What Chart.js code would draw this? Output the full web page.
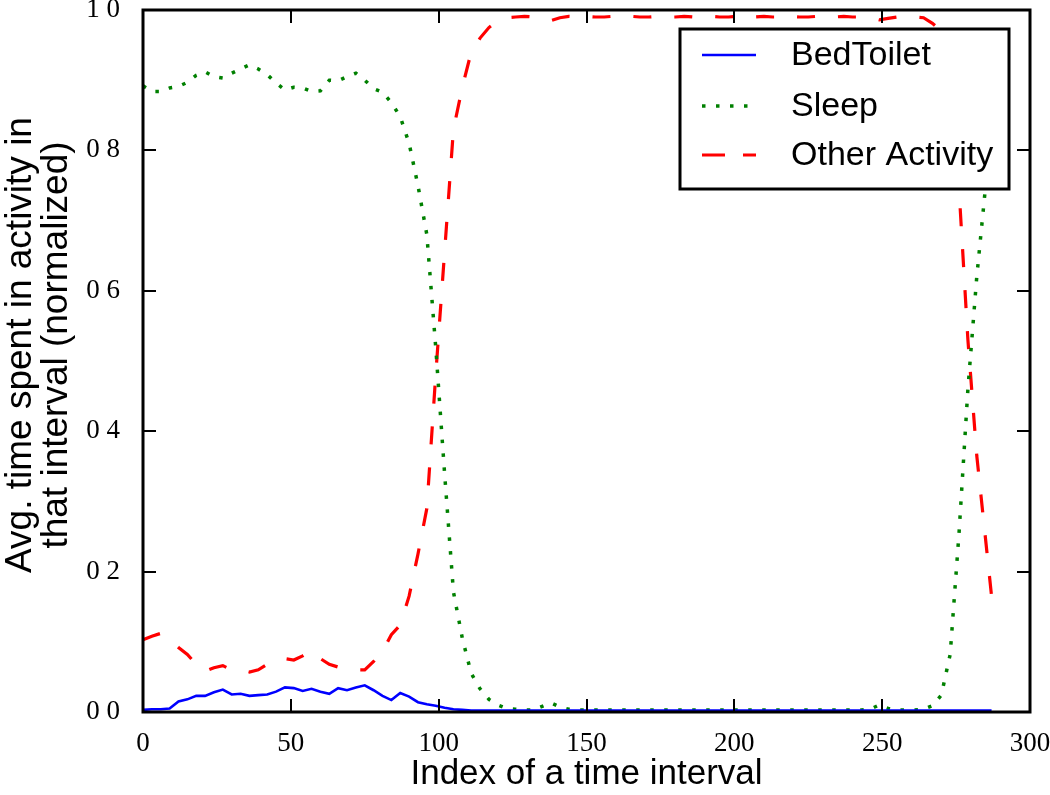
<!DOCTYPE html>
<html><head><meta charset="utf-8">
<script src="https://cdn.jsdelivr.net/npm/chart.js@4.4.0/dist/chart.umd.min.js"></script>
<style>html,body{margin:0;padding:0;background:#fff;}canvas{display:block;}</style>
</head><body>
<canvas id="c" width="1050" height="795"></canvas>
<script>
// ---- data (index of 5-minute interval) ----
const idx = [0,3,6,9,12,15,18,21,24,27,30,33,36,39,42,45,48,51,54,57,60,63,66,69,72,75,78,81,84,87,
  90,93,96,99,102,105,108,111,114,117,120,123,126,129,132,135,138,141,144,147,150,153,156,159,162,165,
  168,171,174,177,180,183,186,189,192,195,198,201,204,207,210,213,216,219,222,225,228,231,234,237,240,
  243,246,249,252,255,258,261,264,267,270,273,276,279,282,285,287];

const bedToilet = [0.003,0.004,0.004,0.005,0.015,0.018,0.023,0.023,0.028,0.032,
  0.025,0.026,0.023,0.024,0.025,0.029,0.035,0.034,0.030,0.033,
  0.029,0.026,0.034,0.031,0.035,0.038,0.031,0.023,0.017,0.027,
  0.022,0.014,0.011,0.009,0.006,0.004,0.003,0.002,0.002,0.002,
  0.002,0.002,0.002,0.002,0.002,0.002,0.002,0.002,0.002,0.002,
  0.002,0.002,0.002,0.002,0.002,0.002,0.002,0.002,0.002,0.002,
  0.002,0.002,0.002,0.002,0.002,0.002,0.002,0.002,0.002,0.002,
  0.002,0.002,0.002,0.002,0.002,0.002,0.002,0.002,0.002,0.002,
  0.002,0.002,0.002,0.002,0.002,0.002,0.002,0.002,0.002,0.002,
  0.002,0.002,0.002,0.002,0.002,0.002,0.002];

const sleep = [0.892,0.884,0.884,0.889,0.891,0.897,0.907,0.912,0.905,0.903,
  0.910,0.916,0.922,0.916,0.908,0.896,0.886,0.890,0.889,0.884,
  0.885,0.900,0.899,0.905,0.910,0.900,0.888,0.883,0.868,0.848,
  0.810,0.750,0.680,0.520,0.340,0.171,0.105,0.055,0.033,0.018,
  0.010,0.005,0.004,0.003,0.003,0.008,0.013,0.007,0.004,0.003,
  0.003,0.003,0.003,0.003,0.003,0.003,0.003,0.003,0.003,0.003,
  0.003,0.003,0.003,0.003,0.003,0.003,0.003,0.003,0.003,0.003,
  0.003,0.003,0.003,0.003,0.003,0.003,0.003,0.003,0.003,0.003,
  0.003,0.003,0.004,0.010,0.005,0.003,0.003,0.003,0.004,0.009,
  0.024,0.082,0.255,0.460,0.620,0.750,0.830];

const otherActivity = [0.103,0.108,0.112,0.104,0.092,0.082,0.068,0.058,0.063,0.066,
  0.060,0.060,0.057,0.060,0.068,0.074,0.076,0.074,0.080,0.088,
  0.076,0.068,0.064,0.062,0.060,0.060,0.072,0.086,0.110,0.124,
  0.165,0.225,0.290,0.480,0.655,0.830,0.890,0.940,0.960,0.975,
  0.985,0.989,0.990,0.991,0.990,0.988,0.985,0.989,0.991,0.990,
  0.991,0.990,0.990,0.991,0.990,0.991,0.990,0.990,0.991,0.990,
  0.990,0.991,0.990,0.990,0.991,0.990,0.990,0.991,0.990,0.990,
  0.991,0.990,0.990,0.991,0.990,0.990,0.991,0.990,0.990,0.991,
  0.990,0.990,0.989,0.986,0.988,0.990,0.990,0.990,0.989,0.981,
  0.970,0.915,0.745,0.530,0.365,0.245,0.165];

const seriesNames = ['BedToilet', 'Sleep', 'Other Activity'];
const xTickValues = [0, 50, 100, 150, 200, 250, 300];
const xTickLabels = ['0', '50', '100', '150', '200', '250', '300'];
const yTickValues = [0, 0.2, 0.4, 0.6, 0.8, 1.0];
const yTickLabels = ['0 0', '0 2', '0 4', '0 6', '0 8', '1 0'];
const xTitle = 'Index of a time interval';
const yTitle = ['Avg. time spent in activity in', 'that interval (normalized)'];

const toPts = arr => idx.map((x, i) => ({x, y: arr[i]}));

const styles = [
  {color: '#0000ff', width: 2.6, dash: [], legendDash: []},
  {color: '#008000', width: 3.5, dash: [3.5, 10.5], legendDash: [3.5, 10.5]},
  {color: '#ff0000', width: 3.2, dash: [18, 23], legendDash: [23, 18]}
];

const decor = {
  id: 'decor',
  afterDatasetsDraw(chart) {
    const {ctx, chartArea: a, scales: {x, y}} = chart;
    ctx.save();
    ctx.strokeStyle = '#000';
    ctx.lineWidth = 2;
    ctx.beginPath();
    xTickValues.forEach(v => {
      if (v <= x.min || v >= x.max) return;
      const px = Math.round(x.getPixelForValue(v));
      ctx.moveTo(px, a.bottom); ctx.lineTo(px, a.bottom - 13);
      ctx.moveTo(px, a.top); ctx.lineTo(px, a.top + 13);
    });
    yTickValues.forEach(v => {
      if (v <= y.min + 1e-9 || v >= y.max - 1e-9) return;
      const py = Math.round(y.getPixelForValue(v));
      ctx.moveTo(a.left, py); ctx.lineTo(a.left + 13, py);
      ctx.moveTo(a.right, py); ctx.lineTo(a.right - 13, py);
    });
    ctx.stroke();
    ctx.lineWidth = 3;
    ctx.strokeRect(a.left, a.top, a.right - a.left, a.bottom - a.top);

    // legend
    const L = 680, T = 29, R = 1009, B = 189;
    ctx.fillStyle = '#fff';
    ctx.fillRect(L, T, R - L, B - T);
    ctx.lineWidth = 3;
    ctx.strokeStyle = '#000';
    ctx.strokeRect(L, T, R - L, B - T);
    const rowsY = [55, 106, 155];
    ctx.font = '34px "Liberation Sans", Arial, sans-serif';
    ctx.textBaseline = 'middle';
    ctx.textAlign = 'left';
    seriesNames.forEach((name, i) => {
      const s = styles[i];
      ctx.save();
      ctx.strokeStyle = s.color;
      ctx.lineWidth = s.width;
      ctx.setLineDash(s.legendDash);
      ctx.beginPath();
      ctx.moveTo(702, rowsY[i]); ctx.lineTo(756, rowsY[i]);
      ctx.stroke();
      ctx.restore();
      ctx.fillStyle = '#000';
      ctx.fillText(name, 791, rowsY[i] + 1);
    });
    ctx.restore();
  },
  afterDraw(chart) {
    const {ctx, chartArea: a} = chart;
    ctx.save();
    ctx.fillStyle = '#000';
    ctx.textAlign = 'center';
    ctx.textBaseline = 'middle';
    ctx.font = '35px "Liberation Sans", Arial, sans-serif';
    ctx.fillText(xTitle, (a.left + a.right) / 2, 774);
    ctx.font = '37px "Liberation Sans", Arial, sans-serif';
    ctx.translate(0, 345);
    ctx.rotate(-Math.PI / 2);
    ctx.fillText(yTitle[0], 0, 21);
    ctx.fillText(yTitle[1], 0, 57);
    ctx.restore();
  }
};

const tickFont = {family: '"Liberation Serif", "Times New Roman", serif', size: 27};

new Chart(document.getElementById('c'), {
  type: 'line',
  data: {
    datasets: [bedToilet, sleep, otherActivity].map((arr, i) => ({
      label: seriesNames[i],
      data: toPts(arr),
      borderColor: styles[i].color,
      backgroundColor: styles[i].color,
      borderWidth: styles[i].width,
      borderDash: styles[i].dash,
      pointRadius: 0,
      tension: 0,
      fill: false
    }))
  },
  options: {
    responsive: false,
    animation: false,
    devicePixelRatio: 1,
    layout: {padding: {top: 10, right: 20, left: 0, bottom: 0}},
    plugins: {legend: {display: false}, tooltip: {enabled: false}},
    scales: {
      x: {
        type: 'linear', min: 0, max: 300,
        afterFit: s => { s.height = 83; s.paddingLeft = 0; s.paddingRight = 0; },
        afterBuildTicks: s => { s.ticks = xTickValues.map(v => ({value: v})); },
        grid: {display: false},
        border: {display: false},
        ticks: {
          padding: 8, color: '#000', maxRotation: 0, autoSkip: false,
          font: tickFont,
          callback: (v, i) => xTickLabels[i]
        }
      },
      y: {
        type: 'linear', min: 0, max: 1,
        afterFit: s => { s.width = 143; s.paddingTop = 0; s.paddingBottom = 0; },
        afterBuildTicks: s => { s.ticks = yTickValues.map(v => ({value: v})); },
        grid: {display: false},
        border: {display: false},
        ticks: {
          padding: 15, color: '#000',
          font: tickFont,
          callback: (v, i) => yTickLabels[i]
        }
      }
    }
  },
  plugins: [decor]
});
</script>
</body></html>
